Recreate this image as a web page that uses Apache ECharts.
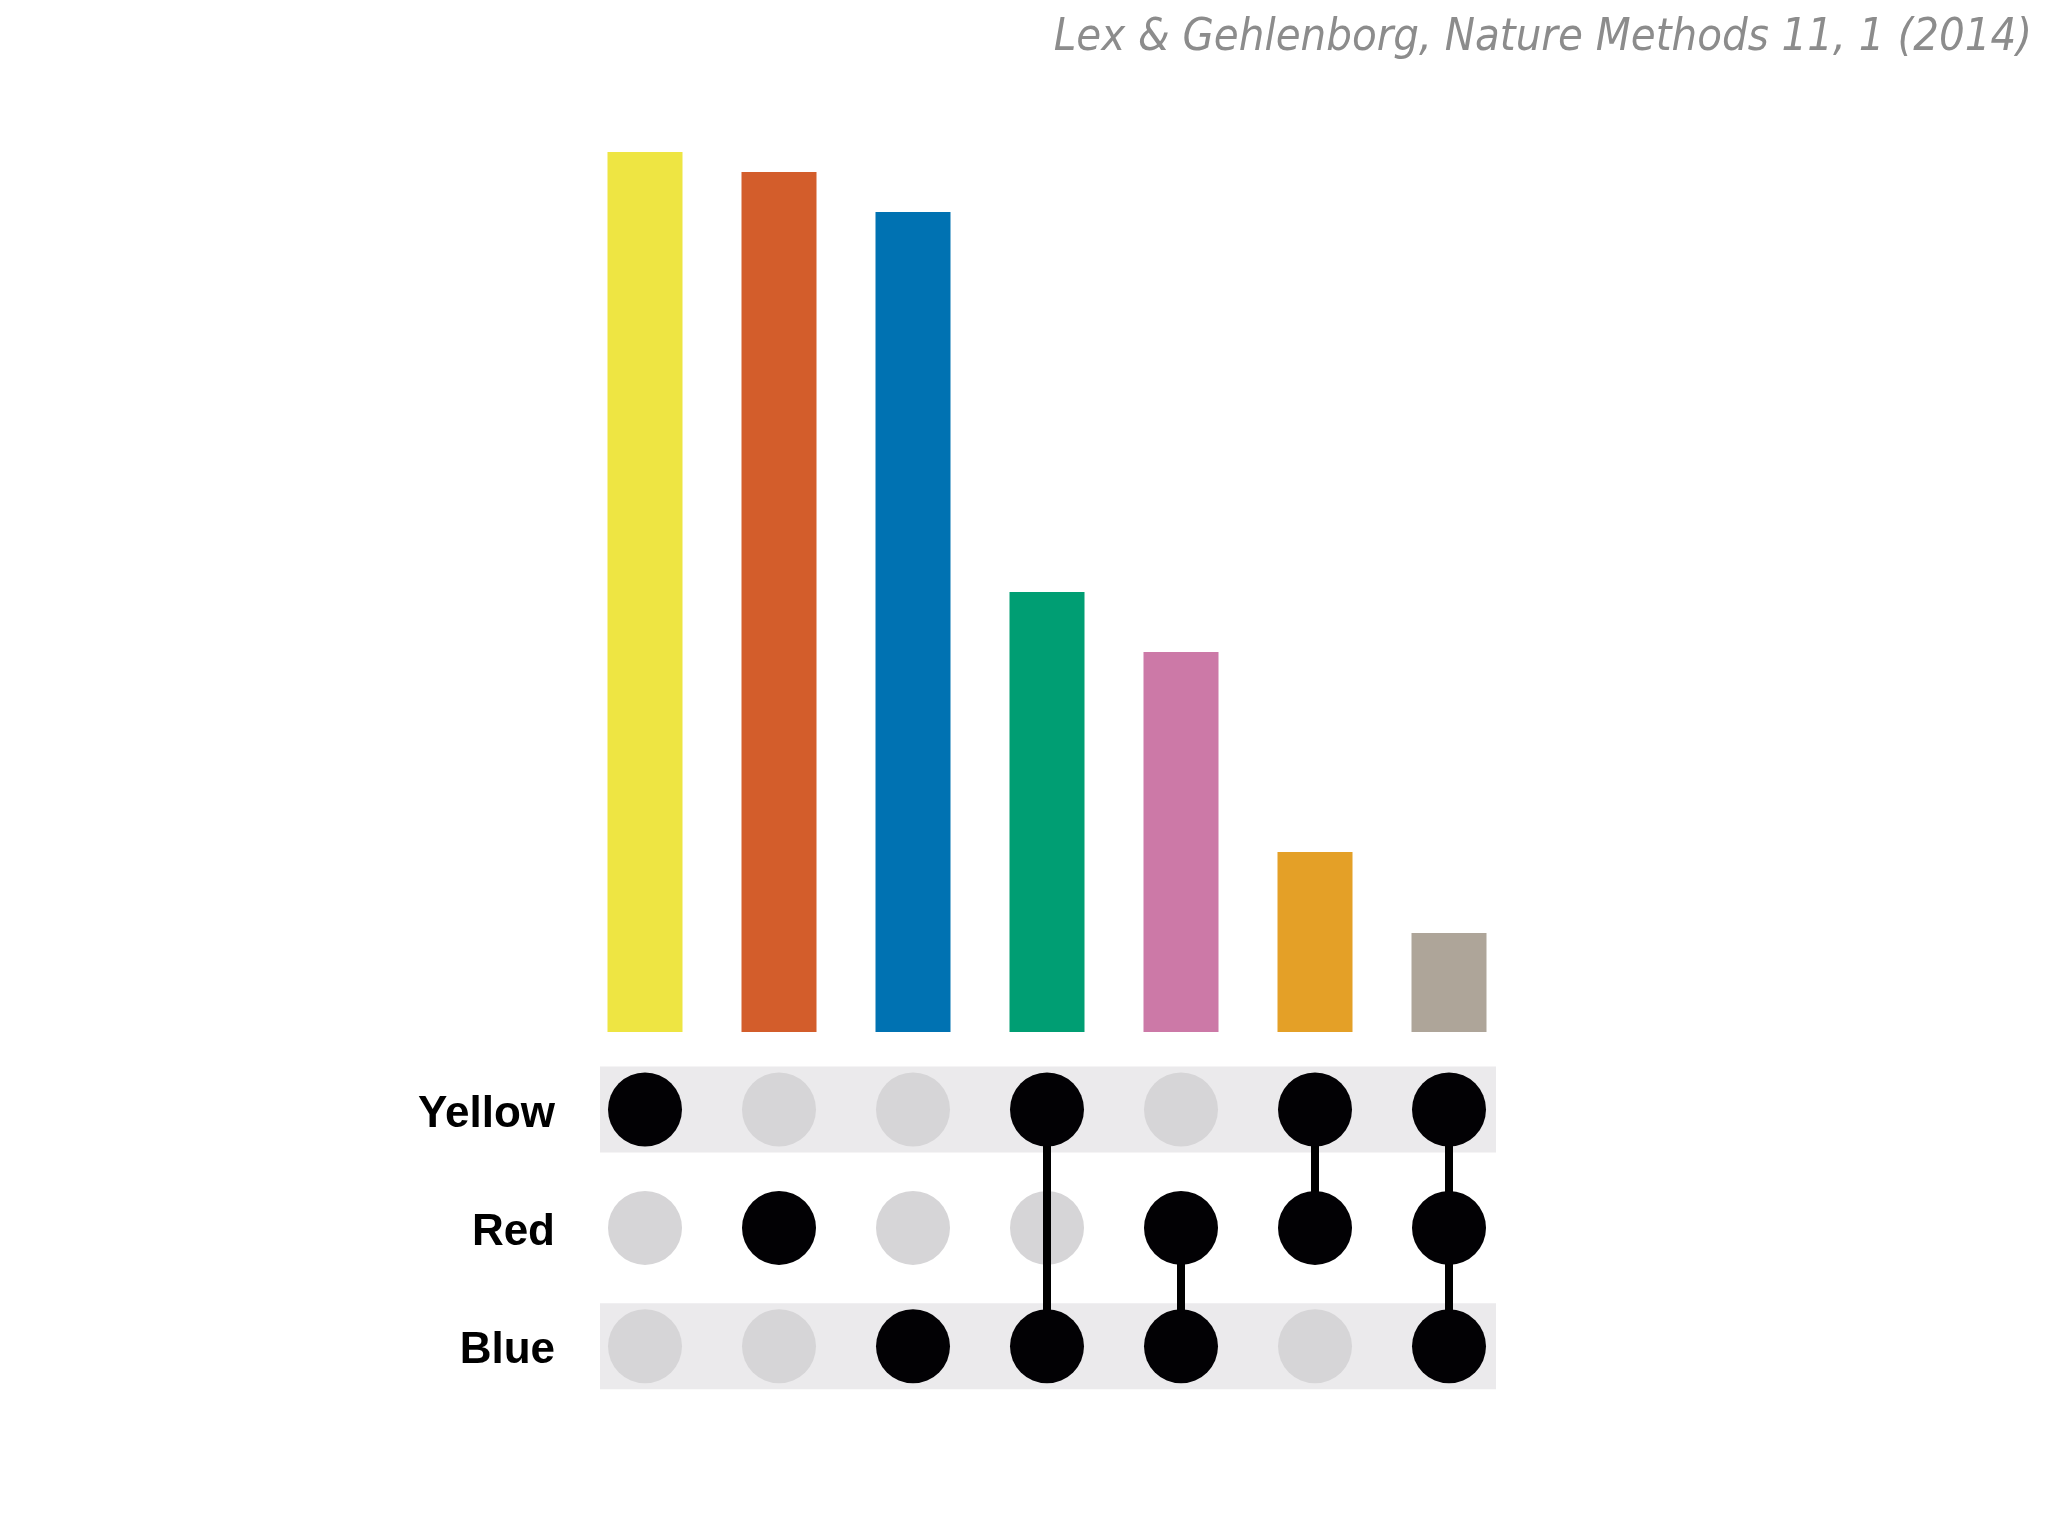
<!DOCTYPE html>
<html>
<head>
<meta charset="utf-8">
<style>
  html, body { margin: 0; padding: 0; background: #ffffff; }
  #chart { width: 2048px; height: 1536px; }
</style>
<script src="https://cdn.jsdelivr.net/npm/echarts@6/dist/echarts.min.js"></script>
</head>
<body>
<div id="chart"></div>
<script>
// ---- data ----
const titleText = 'Lex & Gehlenborg, Nature Methods 11, 1 (2014)';
const setNames = ['Blue', 'Red', 'Yellow'];            // matrix rows, bottom to top
const comboIds = ['Y', 'R', 'B', 'YB', 'RB', 'YR', 'YRB'];
const comboMembers = [
  ['Yellow'],
  ['Red'],
  ['Blue'],
  ['Yellow', 'Blue'],
  ['Red', 'Blue'],
  ['Yellow', 'Red'],
  ['Yellow', 'Red', 'Blue']
];
const comboSizes = [880, 860, 820, 440, 380, 180, 99];
const barColors = ['#eee543', '#d35d2b', '#0072b2', '#009e73', '#cc79a7', '#e4a027', '#aea599'];
const shadedRows = ['Yellow', 'Blue'];

// ---- derived series data ----
const barData = comboSizes.map((v, i) => ({ value: v, itemStyle: { color: barColors[i] } }));
const onDots = [], offDots = [], links = [];
comboMembers.forEach((mem, i) => {
  const rows = [];
  setNames.forEach((s, r) => {
    if (mem.includes(s)) { onDots.push([i, r]); rows.push(r); }
    else offDots.push([i, r]);
  });
  if (rows.length > 1) links.push([i, Math.min(...rows), Math.max(...rows)]);
});
const bandData = shadedRows.map(s => [setNames.indexOf(s)]);

const gridLeft = 578, gridWidth = 938;
const chart = echarts.init(document.getElementById('chart'));
chart.setOption({
  backgroundColor: '#ffffff',
  animation: false,
  title: {
    text: titleText,
    right: 16,
    top: 16,
    padding: 0,
    textStyle: {
      fontFamily: "'Liberation Sans Narrow', 'DejaVu Sans Condensed', sans-serif",
      fontStyle: 'italic',
      fontWeight: 'normal',
      fontSize: 45,
      color: '#8c8c8c'
    }
  },
  grid: [
    { left: gridLeft, width: gridWidth, top: 132, height: 900 },
    { left: gridLeft, width: gridWidth, top: 1050.3, height: 355.2 }
  ],
  xAxis: [
    { type: 'category', gridIndex: 0, data: comboIds, show: false },
    { type: 'category', gridIndex: 1, data: comboIds, show: false }
  ],
  yAxis: [
    { type: 'value', gridIndex: 0, min: 0, max: 900, show: false },
    {
      type: 'category', gridIndex: 1, data: setNames,
      axisLine: { show: false }, axisTick: { show: false }, splitLine: { show: false },
      axisLabel: {
        margin: 23,
        formatter: '{s|{value}}',
        rich: {
          s: {
            padding: [10, 0, 0, 0],
            fontFamily: "'Liberation Sans', Arial, sans-serif",
            fontWeight: 'bold',
            fontSize: 44,
            color: '#000000'
          }
        }
      }
    }
  ],
  series: [
    {
      type: 'bar', xAxisIndex: 0, yAxisIndex: 0,
      data: barData, barWidth: 75
    },
    {
      type: 'custom', xAxisIndex: 1, yAxisIndex: 1, z: 1,
      data: bandData,
      encode: { y: 0 },
      renderItem: function (params, api) {
        const row = api.value(0);
        const p0 = api.coord([0, row]);
        const p1 = api.coord([comboIds.length - 1, row]);
        const h = api.size([0, 1])[1] * 0.726;
        return {
          type: 'rect',
          shape: { x: p0[0] - 45, y: p0[1] - h / 2, width: p1[0] - p0[0] + 92, height: h },
          style: { fill: '#ebeaec' }
        };
      }
    },
    {
      type: 'scatter', xAxisIndex: 1, yAxisIndex: 1, z: 2,
      data: offDots, symbolSize: 74,
      itemStyle: { color: '#d6d5d7', opacity: 1 }
    },
    {
      type: 'custom', xAxisIndex: 1, yAxisIndex: 1, z: 3,
      data: links,
      encode: { x: 0, y: [1, 2] },
      renderItem: function (params, api) {
        const a = api.coord([api.value(0), api.value(1)]);
        const b = api.coord([api.value(0), api.value(2)]);
        return {
          type: 'line',
          shape: { x1: a[0], y1: a[1], x2: b[0], y2: b[1] },
          style: { stroke: '#000000', lineWidth: 8 }
        };
      }
    },
    {
      type: 'scatter', xAxisIndex: 1, yAxisIndex: 1, z: 4,
      data: onDots, symbolSize: 74,
      itemStyle: { color: '#020104', opacity: 1 }
    }
  ]
});
</script>
</body>
</html>
